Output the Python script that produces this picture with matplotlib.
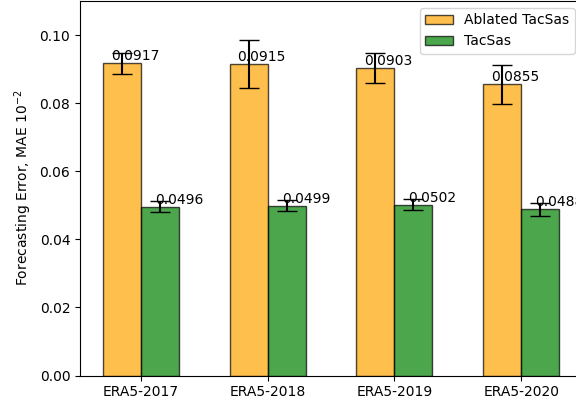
import numpy as np
import matplotlib
matplotlib.use("Agg")
import matplotlib.pyplot as plt

categories = ["ERA5-2017", "ERA5-2018", "ERA5-2019", "ERA5-2020"]
ablated_vals = [0.0917, 0.0915, 0.0903, 0.0855]
ablated_err = [0.0030, 0.0071, 0.0043, 0.0056]
tacsas_vals = [0.0496, 0.0499, 0.0502, 0.0488]
tacsas_err = [0.0016, 0.0017, 0.0017, 0.0018]

fig = plt.figure(figsize=(5.76, 4.03), dpi=100)
ax = fig.add_axes([80 / 576, 27.4 / 403, 502 / 576, 374.6 / 403])

x = np.arange(len(categories))
width = 0.3

ax.bar(x - width / 2, ablated_vals, width, yerr=ablated_err, capsize=7.5,
       color="orange", alpha=0.7, edgecolor="black", label="Ablated TacSas")
ax.bar(x + width / 2, tacsas_vals, width, yerr=tacsas_err, capsize=7.5,
       color="green", alpha=0.7, edgecolor="black", label="TacSas")

# value labels just above each bar
for xi, v in zip(x - width / 2, ablated_vals):
    ax.annotate(f"{v}", (xi, v), xytext=(-8, 0), textcoords="offset points",
                ha="left", va="bottom", fontsize=10)
for xi, v in zip(x + width / 2, tacsas_vals):
    ax.annotate(f"{v}", (xi, v), xytext=(-3.6, 0), textcoords="offset points",
                ha="left", va="bottom", fontsize=10)

ax.set_xticks(x)
ax.set_xticklabels(categories)
ax.set_ylim(0, 0.11)
ax.set_yticks([0.0, 0.02, 0.04, 0.06, 0.08, 0.10])
ax.set_ylabel("Forecasting Error, MAE 10$^{-2}$")
ax.legend(loc="upper right")

fig.savefig("out.png", dpi=100)
